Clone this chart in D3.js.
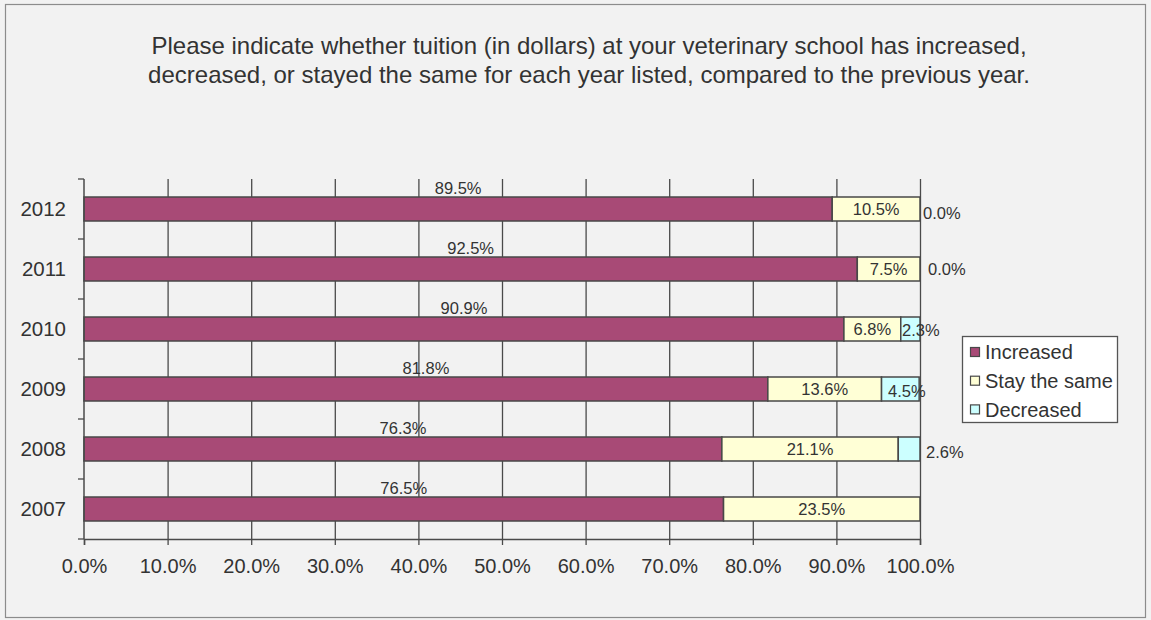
<!DOCTYPE html>
<html><head><meta charset="utf-8">
<script src="https://cdn.jsdelivr.net/npm/d3@7"></script>
<style>
html,body{margin:0;padding:0;background:#f2f2f2;}
svg{display:block;font-family:"Liberation Sans",Arial,sans-serif;}
</style></head><body>
<svg id="c" width="1151" height="620"></svg>
<script>
const years = ["2012","2011","2010","2009","2008","2007"];
const increased = [89.5, 92.5, 90.9, 81.8, 76.3, 76.5];
const stayedSame = [10.5, 7.5, 6.8, 13.6, 21.1, 23.5];
const decreased = [0.0, 0.0, 2.3, 4.5, 2.6, 0.0];
const seriesNames = ["Increased", "Stay the same", "Decreased"];
const xTicks = [0,10,20,30,40,50,60,70,80,90,100];
const titleLines = [
  "Please indicate whether tuition (in dollars) at your veterinary school has increased,",
  "decreased, or stayed the same for each year listed, compared to the previous year."
];
// label nudges for the "Decreased" labels (style only)
const decLabelNudge = [[3,4],[8,0],[-18,1],[-32,2],[6,3],null];

const colors = ["#a84a76", "#ffffd6", "#ccffff"];
const textCol = "#333333";
const svg = d3.select("#c");
svg.append("rect").attr("x",5.5).attr("y",4.5).attr("width",1140).attr("height",613)
  .attr("fill","#f2f2f2").attr("stroke","#8c8c8c").attr("stroke-width",1.2);

const m = {left:84, right:920, top:179, bottom:539};
const x = d3.scaleLinear().domain([0,100]).range([m.left, m.right]);
const y = d3.scaleBand().domain(years).range([m.top, m.bottom]).paddingInner(0.6).paddingOuter(0.3);

// title
const t = svg.append("text").attr("text-anchor","middle").attr("fill",textCol)
  .style("font-size","24px");
titleLines.forEach((l,i)=>{
  t.append("tspan").attr("x",589).attr("y",54+i*29).text(l);
});

// gridlines
svg.append("g").selectAll("line").data(xTicks.slice(1)).join("line")
  .attr("x1",d=>x(d)+0.5).attr("x2",d=>x(d)+0.5)
  .attr("y1",m.top).attr("y2",m.bottom)
  .attr("stroke","#4a4a4a").attr("stroke-width",1.3);

// bars
const stackData = years.map((yr,i)=>({year:yr, vals:[increased[i], stayedSame[i], decreased[i]]}));
const gBars = svg.append("g");
stackData.forEach((d,i)=>{
  let acc = 0;
  d.vals.forEach((v,k)=>{
    if (v>0) {
      gBars.append("rect")
        .attr("x", x(acc)).attr("width", x(acc+v)-x(acc))
        .attr("y", y(d.year)).attr("height", y.bandwidth())
        .attr("fill", colors[k]).attr("stroke","#484848").attr("stroke-width",1.5);
    }
    acc += v;
  });
});

// axes
const xAxis = d3.axisBottom(x).tickValues(xTicks).tickSize(6).tickFormat(d=>d.toFixed(1)+"%");
const gx = svg.append("g").attr("transform",`translate(0,${m.bottom})`).call(xAxis);
gx.select(".domain").attr("stroke","#4a4a4a").attr("stroke-width",1.5);
gx.selectAll(".tick line").attr("stroke","#4a4a4a").attr("stroke-width",1.3);
gx.selectAll(".tick text").attr("fill",textCol).style("font-size","20px")
  .style("font-family","'Liberation Sans',Arial,sans-serif").attr("dy","1.25em");

const yStep = (m.bottom-m.top)/years.length;
const boundaries = d3.range(years.length+1).map(i=>m.top+i*yStep);
svg.append("line").attr("x1",m.left).attr("x2",m.left).attr("y1",m.top).attr("y2",m.bottom)
  .attr("stroke","#4a4a4a").attr("stroke-width",1.5);
svg.append("g").selectAll("line").data(boundaries).join("line")
  .attr("x1",m.left-6).attr("x2",m.left).attr("y1",d=>d).attr("y2",d=>d)
  .attr("stroke","#4a4a4a").attr("stroke-width",1.3);
svg.append("g").selectAll("text").data(years).join("text")
  .attr("x",66).attr("y",d=>y(d)+y.bandwidth()/2).attr("dy","0.36em")
  .attr("text-anchor","end").attr("fill",textCol).style("font-size","20.5px").text(d=>d);

// labels
const gl = svg.append("g").style("font-size","16.5px").attr("fill",textCol);
stackData.forEach((d,i)=>{
  const inc = d.vals[0], same = d.vals[1], dec = d.vals[2];
  gl.append("text").attr("x", x(inc/2)).attr("y", y(d.year)-3)
    .attr("text-anchor","middle").text(inc.toFixed(1)+"%");
  gl.append("text").attr("x", x(inc+same/2)).attr("y", y(d.year)+y.bandwidth()/2).attr("dy","0.36em")
    .attr("text-anchor","middle").text(same.toFixed(1)+"%");
  const nd = decLabelNudge[i];
  if (nd) {
    gl.append("text").attr("x", x(100)+nd[0]).attr("y", y(d.year)+y.bandwidth()/2+nd[1]).attr("dy","0.36em")
      .attr("text-anchor","start").text(dec.toFixed(1)+"%");
  }
});

// legend
const lg = svg.append("g");
lg.append("rect").attr("x",962.5).attr("y",336.5).attr("width",155).attr("height",86)
  .attr("fill","#ffffff").attr("stroke","#555").attr("stroke-width",1.3);
seriesNames.forEach((n,k)=>{
  const cy = 352 + k*28.7;
  lg.append("rect").attr("x",970.5).attr("y",cy-4.5).attr("width",9).attr("height",9)
    .attr("fill",colors[k]).attr("stroke","#484848").attr("stroke-width",1.2);
  lg.append("text").attr("x",985).attr("y",cy).attr("dy","0.36em").attr("fill",textCol)
    .style("font-size","20px").text(n);
});
</script>
</body></html>
